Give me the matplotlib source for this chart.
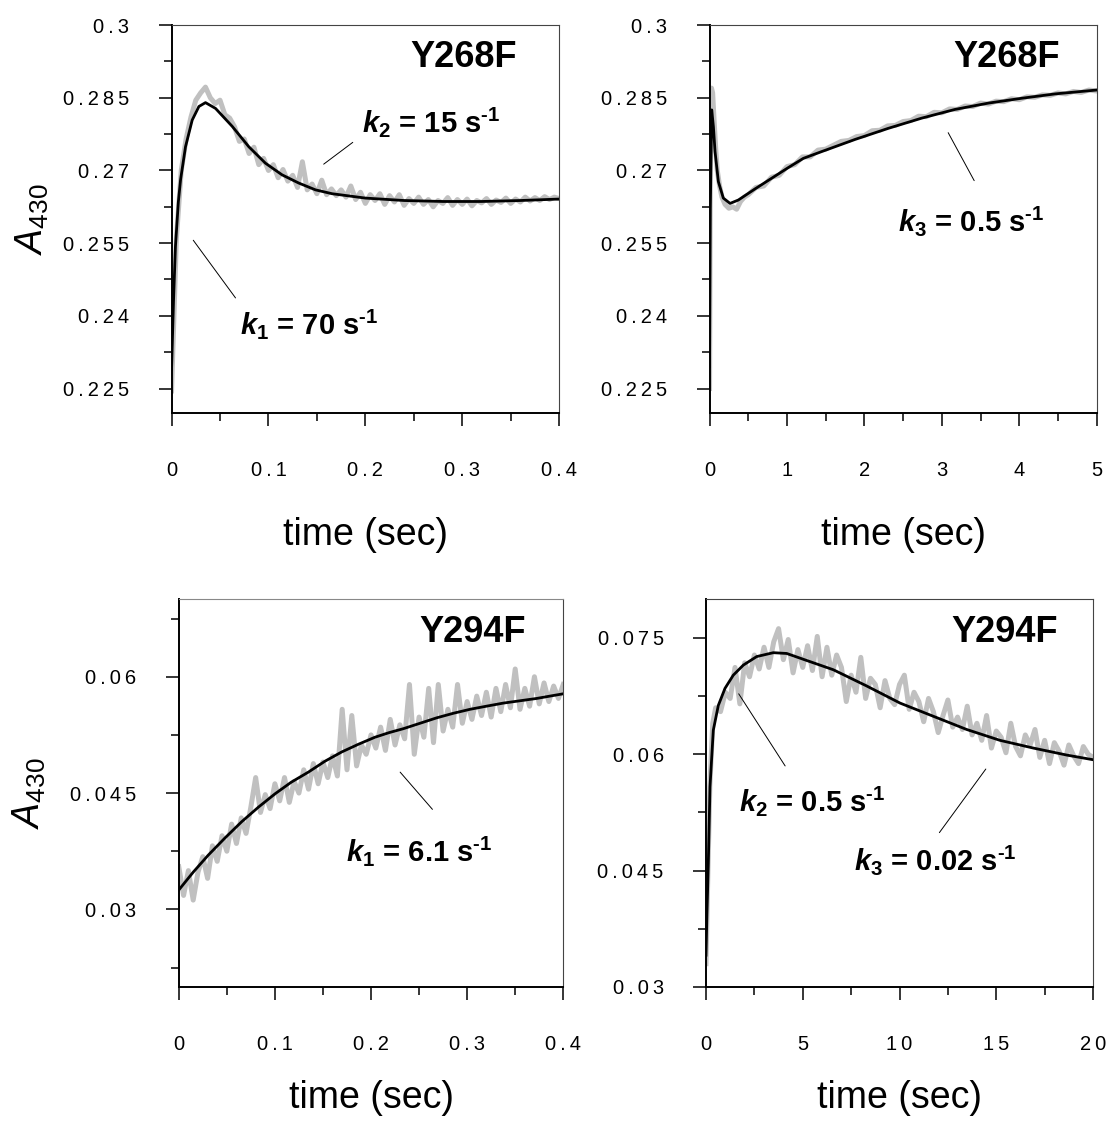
import matplotlib
matplotlib.use("Agg")
import matplotlib.pyplot as plt
from matplotlib.ticker import FixedLocator, FixedFormatter

plt.rcParams['font.family'] = ['Liberation Sans', 'DejaVu Sans']
plt.rcParams['mathtext.fontset'] = 'custom'
plt.rcParams['mathtext.rm'] = 'Liberation Sans'
plt.rcParams['mathtext.it'] = 'Liberation Sans:italic'
plt.rcParams['mathtext.bf'] = 'Liberation Sans:bold'
plt.rcParams['mathtext.bfit'] = 'Liberation Sans:italic:bold'

# --- Y268F, short time scale (0 - 0.4 s) ---
t1_raw = [0, 0.005, 0.01, 0.015, 0.02, 0.025, 0.03, 0.035, 0.04, 0.045,
          0.05, 0.055, 0.06, 0.065, 0.07, 0.075, 0.08, 0.085, 0.09, 0.095,
          0.1, 0.105, 0.11, 0.115, 0.12, 0.125, 0.13, 0.135, 0.14, 0.145,
          0.15, 0.155, 0.16, 0.165, 0.17, 0.175, 0.18, 0.185, 0.19, 0.195,
          0.2, 0.205, 0.21, 0.215, 0.22, 0.225, 0.23, 0.235, 0.24, 0.245,
          0.25, 0.255, 0.26, 0.265, 0.27, 0.275, 0.28, 0.285, 0.29, 0.295,
          0.3, 0.305, 0.31, 0.315, 0.32, 0.325, 0.33, 0.335, 0.34, 0.345,
          0.35, 0.355, 0.36, 0.365, 0.37, 0.375, 0.38, 0.385, 0.39, 0.395,
          0.4]
a1_raw = [0.2245, 0.2560, 0.2700, 0.2765, 0.2810, 0.2845, 0.2860, 0.2872, 0.2850, 0.2838,
          0.2845, 0.2815, 0.2808, 0.2790, 0.2760, 0.2765, 0.2735, 0.2748, 0.2712, 0.2725,
          0.2700, 0.2712, 0.2685, 0.2702, 0.2678, 0.2690, 0.2665, 0.2718, 0.2660, 0.2672,
          0.2652, 0.2680, 0.2650, 0.2662, 0.2648, 0.2660, 0.2645, 0.2668, 0.2640, 0.2655,
          0.2632, 0.2650, 0.2638, 0.2652, 0.2630, 0.2648, 0.2635, 0.2650, 0.2628, 0.2642,
          0.2632, 0.2645, 0.2630, 0.2640, 0.2625, 0.2638, 0.2632, 0.2644, 0.2628, 0.2640,
          0.2630, 0.2641, 0.2627, 0.2638, 0.2633, 0.2642, 0.2630, 0.2639, 0.2634, 0.2643,
          0.2632, 0.2641, 0.2635, 0.2645, 0.2637, 0.2644, 0.2638, 0.2646, 0.2640, 0.2645,
          0.2642]
t1_fit = [0, 0.002, 0.004, 0.007, 0.0093, 0.0144, 0.0213, 0.0282, 0.035, 0.0454,
          0.0626, 0.0797, 0.0969, 0.114, 0.1313, 0.1485, 0.1657, 0.2, 0.24, 0.28,
          0.32, 0.36, 0.4]
a1_fit = [0.229, 0.243, 0.2543, 0.2635, 0.2681, 0.2749, 0.2804, 0.2832, 0.2840, 0.2828,
          0.2791, 0.2749, 0.2715, 0.2691, 0.2674, 0.2660, 0.2652, 0.2643, 0.2638, 0.2636,
          0.2636, 0.2638, 0.2641]

# --- Y268F, long time scale (0 - 5 s) ---
t2_raw = [0, 0.01, 0.025, 0.04, 0.06, 0.08, 0.1, 0.13, 0.16, 0.2,
          0.25, 0.3, 0.35, 0.4, 0.45, 0.5, 0.6, 0.7, 0.8, 0.9,
          1.0, 1.1, 1.2, 1.3, 1.4, 1.5, 1.6, 1.7, 1.8, 1.9,
          2.0, 2.1, 2.2, 2.3, 2.4, 2.5, 2.6, 2.7, 2.8, 2.9,
          3.0, 3.1, 3.2, 3.3, 3.4, 3.5, 3.6, 3.7, 3.8, 3.9,
          4.0, 4.1, 4.2, 4.3, 4.4, 4.5, 4.6, 4.7, 4.8, 4.9,
          5.0]
a2_raw = [0.2250, 0.2700, 0.2870, 0.2860, 0.2800, 0.2745, 0.2700, 0.2668, 0.2645, 0.2630,
          0.2622, 0.2625, 0.2620, 0.2636, 0.2645, 0.2650, 0.2665, 0.2668, 0.2686, 0.2690,
          0.2708, 0.2712, 0.2728, 0.2728, 0.2742, 0.2744, 0.2752, 0.2760, 0.2762, 0.2770,
          0.2772, 0.2782, 0.2783, 0.2792, 0.2793, 0.2801, 0.2803, 0.2812, 0.2811, 0.2820,
          0.2819, 0.2827, 0.2826, 0.2833, 0.2832, 0.2839, 0.2837, 0.2843, 0.2842, 0.2848,
          0.2846, 0.2852, 0.2851, 0.2856, 0.2855, 0.2860, 0.2858, 0.2863, 0.2861, 0.2866,
          0.2864]
t2_fit = [0, 0.01, 0.028, 0.05, 0.071, 0.114, 0.178, 0.265, 0.372, 0.588,
          0.803, 1.018, 1.212, 1.449, 1.879, 2.310, 2.741, 3.171, 3.601, 4.032,
          4.463, 5.0]
a2_fit = [0.2295, 0.262, 0.2825, 0.2790, 0.2739, 0.2677, 0.2643, 0.2632, 0.2639, 0.2662,
          0.2684, 0.2706, 0.2725, 0.2739, 0.2764, 0.2787, 0.2808, 0.2826, 0.2839, 0.2849,
          0.2858, 0.2866]

# --- Y294F, short time scale (0 - 0.4 s) ---
t3_raw = t1_raw
a3_raw = [0.0355, 0.0318, 0.0350, 0.0312, 0.0348, 0.0368, 0.0340, 0.0382, 0.0362, 0.0395,
          0.0375, 0.0410, 0.0385, 0.0418, 0.0398, 0.0432, 0.0470, 0.0425, 0.0448, 0.0430,
          0.0462, 0.0440, 0.0470, 0.0438, 0.0465, 0.0450, 0.0480, 0.0455, 0.0488, 0.0462,
          0.0490, 0.0470, 0.0498, 0.0472, 0.0558, 0.0480, 0.0550, 0.0485, 0.0512, 0.0500,
          0.0525, 0.0508, 0.0535, 0.0505, 0.0545, 0.0512, 0.0538, 0.0520, 0.0590, 0.0500,
          0.0548, 0.0522, 0.0585, 0.0515, 0.0590, 0.0530, 0.0558, 0.0535, 0.0590, 0.0540,
          0.0568, 0.0545, 0.0575, 0.0550, 0.0580, 0.0548, 0.0585, 0.0555, 0.0590, 0.0560,
          0.0610, 0.0558, 0.0585, 0.0562, 0.0600, 0.0565, 0.0592, 0.0568, 0.0588, 0.0572,
          0.0590]
t3_fit = [0, 0.015, 0.0307, 0.048, 0.0654, 0.083, 0.1001, 0.117, 0.1348, 0.152,
          0.1695, 0.187, 0.2041, 0.219, 0.2336, 0.251, 0.2683, 0.286, 0.3030, 0.320,
          0.3376, 0.355, 0.3723, 0.386, 0.4]
a3_fit = [0.0325, 0.0348, 0.0370, 0.0392, 0.0413, 0.0432, 0.0449, 0.0464, 0.0477, 0.0491,
          0.0503, 0.0513, 0.0522, 0.0528, 0.0533, 0.0540, 0.0547, 0.0553, 0.0558, 0.0562,
          0.0566, 0.0569, 0.0572, 0.0575, 0.0578]

# --- Y294F, long time scale (0 - 20 s) ---
t4_raw = [0, 0.1, 0.2, 0.35, 0.5,
          0.75, 1.0, 1.25, 1.5, 1.75, 2.0, 2.25, 2.5, 2.75, 3.0,
          3.25, 3.5, 3.75, 4.0, 4.25, 4.5, 4.75, 5.0, 5.25, 5.5,
          5.75, 6.0, 6.25, 6.5, 6.75, 7.0, 7.25, 7.5, 7.75, 8.0,
          8.25, 8.5, 8.75, 9.0, 9.25, 9.5, 9.75, 10.0, 10.25, 10.5,
          10.75, 11.0, 11.25, 11.5, 11.75, 12.0, 12.25, 12.5, 12.75, 13.0,
          13.25, 13.5, 13.75, 14.0, 14.25, 14.5, 14.75, 15.0, 15.25, 15.5,
          15.75, 16.0, 16.25, 16.5, 16.75, 17.0, 17.25, 17.5, 17.75, 18.0,
          18.25, 18.5, 18.75, 19.0, 19.25, 19.5, 19.75, 20.0]
a4_raw = [0.0330, 0.0450, 0.0560, 0.0640, 0.0660,
          0.0655, 0.0680, 0.0672, 0.0712, 0.0665, 0.0718, 0.0700, 0.0728, 0.0710, 0.0738,
          0.0712, 0.0745, 0.0762, 0.0722, 0.0748, 0.0705, 0.0735, 0.0712, 0.0740, 0.0708,
          0.0752, 0.0700, 0.0738, 0.0702, 0.0728, 0.0712, 0.0668, 0.0702, 0.0680, 0.0725,
          0.0672, 0.0698, 0.0690, 0.0660, 0.0695, 0.0672, 0.0664, 0.0690, 0.0702, 0.0658,
          0.0680, 0.0668, 0.0642, 0.0672, 0.0655, 0.0628, 0.0650, 0.0670, 0.0635, 0.0648,
          0.0632, 0.0662, 0.0625, 0.0640, 0.0618, 0.0650, 0.0608, 0.0630, 0.0622, 0.0602,
          0.0640, 0.0610, 0.0598, 0.0625, 0.0612, 0.0632, 0.0596, 0.0618, 0.0588, 0.0615,
          0.0604, 0.0586, 0.0612, 0.0598, 0.0588, 0.0610, 0.0600, 0.0596]
t4_fit = [0, 0.05, 0.12, 0.207, 0.378, 0.637, 0.982, 1.41, 1.93, 2.62,
          3.48, 4.17, 5.20, 6.58, 8.31, 10.03, 11.75, 13.47, 15.19, 16.92,
          18.64, 20.0]
a4_fit = [0.0341, 0.0395, 0.0459, 0.0558, 0.0631, 0.0663, 0.0685, 0.0702, 0.0715, 0.0726,
          0.0731, 0.0730, 0.0721, 0.0709, 0.0688, 0.0666, 0.0649, 0.0632, 0.0618, 0.0608,
          0.0599, 0.0593]

# axis ticks
x_short_major = [0, 0.1, 0.2, 0.3, 0.4]
x_short_labels = ['0', '0.1', '0.2', '0.3', '0.4']
x_short_minor = [0.05, 0.15, 0.25, 0.35]
x_5s_major = [0, 1, 2, 3, 4, 5]
x_5s_labels = ['0', '1', '2', '3', '4', '5']
x_5s_minor = [0.5, 1.5, 2.5, 3.5, 4.5]
x_20s_major = [0, 5, 10, 15, 20]
x_20s_labels = ['0', '5', '10', '15', '20']
x_20s_minor = [2.5, 7.5, 12.5, 17.5]
y268_major = [0.225, 0.24, 0.255, 0.27, 0.285, 0.3]
y268_labels = ['0.225', '0.24', '0.255', '0.27', '0.285', '0.3']
y268_minor = [0.2325, 0.2475, 0.2625, 0.2775, 0.2925]
y294a_major = [0.03, 0.045, 0.06]
y294a_labels = ['0.03', '0.045', '0.06']
y294a_minor = [0.0225, 0.0375, 0.0525, 0.0675]
y294b_major = [0.03, 0.045, 0.06, 0.075]
y294b_labels = ['0.03', '0.045', '0.06', '0.075']
y294b_minor = [0.0375, 0.0525, 0.0675]

K_STYLE = dict(fontsize=21, fontweight='bold', ha='left', va='baseline')


def spaced(labels):
    # the original tick labels are set with wide letter spacing
    return ['\u2009'.join(lbl) for lbl in labels]


def k_label(i, val):
    # hyphen (not a minus sign) in the s^-1 exponent, like the original
    return r'$\mathbfit{k}_{\mathregular{%s}}$ = %s s$^{\mathregular{\u2010 1}}$'.replace(
        r'\u2010 ', '\u2010') % (i, val)


def draw_panel(ax, t_raw, a_raw, t_fit, a_fit, xlim, ylim, xt, yt, title, title_x,
               xlabel_y, ylabel_x=None, top_color='#444444'):
    ax.plot(t_raw, a_raw, color='#c0c0c0', lw=3.6, zorder=2, solid_joinstyle='round')
    ax.plot(t_fit, a_fit, color='black', lw=2.0, zorder=3)
    ax.set_xlim(*xlim)
    ax.set_ylim(*ylim)

    ax.xaxis.set_major_locator(FixedLocator(xt[0]))
    ax.xaxis.set_major_formatter(FixedFormatter(spaced(xt[1])))
    ax.xaxis.set_minor_locator(FixedLocator(xt[2]))
    ax.yaxis.set_major_locator(FixedLocator(yt[0]))
    ax.yaxis.set_major_formatter(FixedFormatter(spaced(yt[1])))
    ax.yaxis.set_minor_locator(FixedLocator(yt[2]))

    ax.tick_params(which='both', direction='out', width=1.1, top=False, right=False)
    ax.tick_params(which='major', length=9.5, labelsize=14.5)
    ax.tick_params(which='minor', length=5.5)
    ax.tick_params(axis='x', which='major', pad=25)
    ax.tick_params(axis='y', which='major', pad=21)

    for s in ('left', 'bottom'):
        ax.spines[s].set_linewidth(1.4)
    ax.spines['top'].set_linewidth(0.8)
    ax.spines['top'].set_color(top_color)
    ax.spines['right'].set_linewidth(0.8)
    ax.spines['right'].set_color('#444444')

    ax.text(title_x[0], title_x[1], title, transform=ax.transAxes, ha='right',
            va='center', fontsize=26, fontweight='bold')

    ax.set_xlabel('time (sec)', fontsize=27, va='top')
    ax.xaxis.set_label_coords(0.5, xlabel_y)
    if ylabel_x is not None:
        ax.set_ylabel(r'$\mathit{A}_{\mathregular{430}}$', fontsize=27)
        ax.yaxis.set_label_coords(ylabel_x, 0.5)


def leader(ax, p0, p1):
    ax.annotate('', xy=p1, xytext=p0,
                arrowprops=dict(arrowstyle='-', lw=0.7, color='black',
                                shrinkA=0, shrinkB=0))


fig = plt.figure(figsize=(11.09, 11.25), dpi=100)

ax1 = fig.add_axes([0.1547, 0.6331, 0.3495, 0.3446])
draw_panel(ax1, t1_raw, a1_raw, t1_fit, a1_fit, (0, 0.4), (0.22, 0.3),
           (x_short_major, x_short_labels, x_short_minor),
           (y268_major, y268_labels, y268_minor),
           'Y268F', (0.891, 0.917), -0.269, ylabel_x=-0.31)
ax1.text(0.197, 0.2778, k_label(2, '15'), **K_STYLE)
ax1.text(0.0711, 0.2363, k_label(1, '70'), **K_STYLE)
leader(ax1, (0.157, 0.2713), (0.187, 0.2758))
leader(ax1, (0.0224, 0.2556), (0.066, 0.2437))

ax2 = fig.add_axes([0.6398, 0.6331, 0.3491, 0.3446])
draw_panel(ax2, t2_raw, a2_raw, t2_fit, a2_fit, (0, 5), (0.22, 0.3),
           (x_5s_major, x_5s_labels, x_5s_minor),
           (y268_major, y268_labels, y268_minor),
           'Y268F', (0.904, 0.917), -0.269)
ax2.text(2.432, 0.2574, k_label(3, '0.5'), **K_STYLE)
leader(ax2, (3.082, 0.2778), (3.418, 0.2679))

ax3 = fig.add_axes([0.1612, 0.1227, 0.3467, 0.3447])
draw_panel(ax3, t3_raw, a3_raw, t3_fit, a3_fit, (0, 0.4), (0.02, 0.07),
           (x_short_major, x_short_labels, x_short_minor),
           (y294a_major, y294a_labels, y294a_minor),
           'Y294F', (0.9025, 0.914), -0.239, ylabel_x=-0.339, top_color='#888888')
ax3.text(0.1744, 0.0362, k_label(1, '6.1'), **K_STYLE)
leader(ax3, (0.2303, 0.0477), (0.2639, 0.0429))

ax4 = fig.add_axes([0.6366, 0.1227, 0.3490, 0.3447])
draw_panel(ax4, t4_raw, a4_raw, t4_fit, a4_fit, (0, 20), (0.03, 0.08),
           (x_20s_major, x_20s_labels, x_20s_minor),
           (y294b_major, y294b_labels, y294b_minor),
           'Y294F', (0.909, 0.914), -0.239)
ax4.text(1.731, 0.0527, k_label(2, '0.5'), **K_STYLE)
ax4.text(7.64, 0.0451, k_label(3, '0.02'), **K_STYLE)
leader(ax4, (1.69, 0.0678), (4.09, 0.0585))
leader(ax4, (14.46, 0.0581), (12.06, 0.0499))

fig.savefig('out.png', dpi=100)
